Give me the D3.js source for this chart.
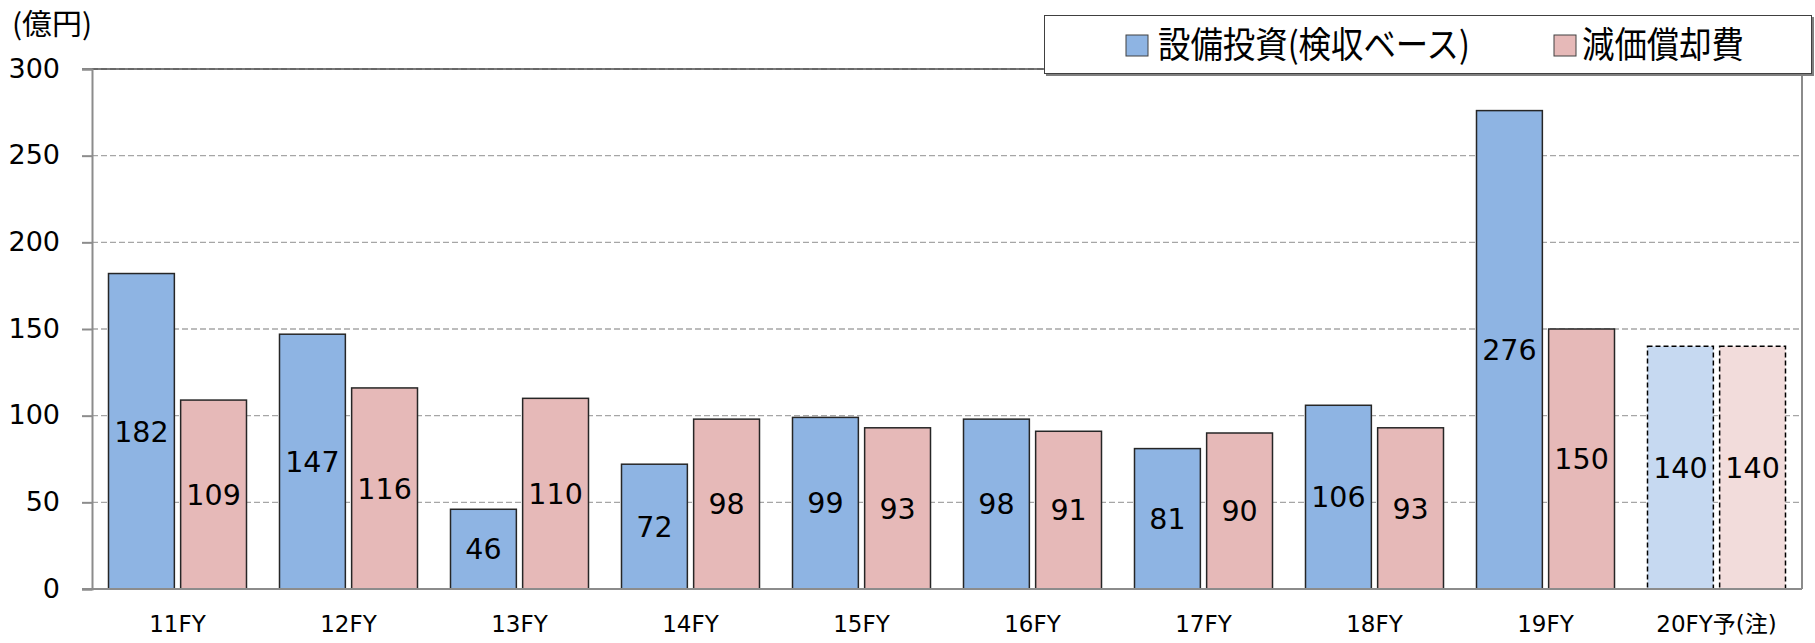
<!DOCTYPE html>
<html>
<head>
<meta charset="utf-8">
<script src="https://cdn.jsdelivr.net/npm/d3@7"></script>
<style>
  body { margin: 0; background: #fff; }
  svg { display: block; }
  text { font-family: "DejaVu Sans", "Noto Sans CJK JP", sans-serif; fill: #000; }
</style>
</head>
<body>
<svg id="chart" width="1815" height="643"></svg>
<script>
// data
var categories = ["11FY", "12FY", "13FY", "14FY", "15FY", "16FY", "17FY", "18FY", "19FY", "20FY予(注)"];
var capex = [182, 147, 46, 72, 99, 98, 81, 106, 276, 140];
var depreciation = [109, 116, 110, 98, 93, 91, 90, 93, 150, 140];
var forecast = [false, false, false, false, false, false, false, false, false, true];
var seriesNames = ["設備投資(検収ベース)", "減価償却費"];
var yTicks = [0, 50, 100, 150, 200, 250, 300];
var unitLabel = "(億円)";

var colors = ["#8eb4e3", "#e6b9b8"];
var lightColors = ["#c6d9f1", "#f2dcdb"];

var svg = d3.select("#chart");
// note: "top" is taken by window.top, so plot bounds get their own names
var plotL = 92, plotR = 1802, plotT = 69, plotB = 589;

var x0 = d3.scaleBand()
  .domain(categories)
  .range([plotL, plotR])
  .paddingInner(0.193)
  .paddingOuter(0.0965);

var x1 = d3.scaleBand()
  .domain([0, 1])
  .range([0, x0.bandwidth()])
  .paddingInner(0.087);

var y = d3.scaleLinear().domain([0, 300]).range([plotB, plotT]);

// gridlines
svg.append("g")
  .selectAll("line")
  .data(yTicks.filter(function(d) { return d > 0; }))
  .enter().append("line")
  .attr("x1", plotL).attr("x2", plotR)
  .attr("y1", function(d) { return y(d); })
  .attr("y2", function(d) { return y(d); })
  .attr("stroke", "#a6a6a6")
  .attr("stroke-width", 1.3)
  .attr("stroke-dasharray", "6,3");

// plot frame top / right
svg.append("line")
  .attr("x1", plotL - 10).attr("x2", plotR)
  .attr("y1", y(300)).attr("y2", y(300))
  .attr("stroke", "#4d4d4d").attr("stroke-width", 1.3);
svg.append("line")
  .attr("x1", plotR).attr("x2", plotR)
  .attr("y1", y(300)).attr("y2", y(0))
  .attr("stroke", "#4d4d4d").attr("stroke-width", 1.3);

// bars
var groups = svg.append("g")
  .selectAll("g")
  .data(categories)
  .enter().append("g")
  .attr("transform", function(d) { return "translate(" + x0(d) + ",0)"; });

groups.selectAll("rect")
  .data(function(d, i) {
    return [
      { s: 0, v: capex[i], f: forecast[i] },
      { s: 1, v: depreciation[i], f: forecast[i] }
    ];
  })
  .enter().append("rect")
  .attr("x", function(d) { return x1(d.s); })
  .attr("width", x1.bandwidth())
  .attr("y", function(d) { return y(d.v); })
  .attr("height", function(d) { return y(0) - y(d.v); })
  .attr("fill", function(d) { return d.f ? lightColors[d.s] : colors[d.s]; })
  .attr("stroke", function(d) { return d.f ? "#000" : "#262626"; })
  .attr("stroke-width", 1.5)
  .attr("stroke-dasharray", function(d) { return d.f ? "5,3" : null; });

groups.selectAll("text")
  .data(function(d, i) {
    return [{ s: 0, v: capex[i] }, { s: 1, v: depreciation[i] }];
  })
  .enter().append("text")
  .attr("x", function(d) { return x1(d.s) + x1.bandwidth() / 2; })
  .attr("y", function(d) { return (y(d.v) + y(0)) / 2; })
  .attr("dy", "0.36em")
  .attr("text-anchor", "middle")
  .style("font-size", "28.5px")
  .text(function(d) { return d.v; });

// y axis
var yAxis = d3.axisLeft(y).tickValues(yTicks).tickSize(10).tickPadding(22);
var yg = svg.append("g").attr("transform", "translate(" + plotL + ",0)").call(yAxis);
yg.select(".domain").attr("stroke", "#8c8c8c").attr("stroke-width", 2);
yg.selectAll(".tick line").attr("stroke", "#8c8c8c").attr("stroke-width", 2);
yg.selectAll(".tick text").style("font-size", "27px").attr("dy", "0.3em")
  .attr("fill", "#000").style("font-family", "'DejaVu Sans', sans-serif");

// x axis baseline + labels
svg.append("line")
  .attr("x1", plotL - 10).attr("x2", plotR)
  .attr("y1", y(0)).attr("y2", y(0))
  .attr("stroke", "#8c8c8c").attr("stroke-width", 2);

svg.append("g")
  .selectAll("text")
  .data(categories)
  .enter().append("text")
  .attr("x", function(d) { return x0(d) + x0.bandwidth() / 2; })
  .attr("y", 632)
  .attr("text-anchor", "middle")
  .style("font-size", "23px")
  .text(function(d) { return d; });

// unit
svg.append("text")
  .attr("x", 12).attr("y", 35)
  .attr("textLength", 80)
  .attr("lengthAdjust", "spacingAndGlyphs")
  .style("font-size", "29px")
  .style("font-family", "'Noto Sans CJK JP', sans-serif")
  .text(unitLabel);

// legend
var legend = svg.append("g");
legend.append("rect")
  .attr("x", 1046).attr("y", 17).attr("width", 768).attr("height", 59)
  .attr("fill", "#7f7f7f");
legend.append("rect")
  .attr("x", 1044.5).attr("y", 15.5).attr("width", 767).attr("height", 58)
  .attr("fill", "#fff").attr("stroke", "#404040").attr("stroke-width", 1);

var legendItems = [
  { sx: 1126, tx: 1158, w: 312 },
  { sx: 1554, tx: 1582, w: 162 }
];
legend.selectAll(".sw")
  .data(legendItems)
  .enter().append("rect")
  .attr("class", "sw")
  .attr("x", function(d) { return d.sx; })
  .attr("y", 35).attr("width", 22).attr("height", 21)
  .attr("fill", function(d, i) { return colors[i]; })
  .attr("stroke", "#404040").attr("stroke-width", 1);
legend.selectAll(".lt")
  .data(legendItems)
  .enter().append("text")
  .attr("class", "lt")
  .attr("x", function(d) { return d.tx; })
  .attr("y", 45.5)
  .attr("dy", "0.36em")
  .attr("textLength", function(d) { return d.w; })
  .attr("lengthAdjust", "spacingAndGlyphs")
  .style("font-size", "36px")
  .style("font-family", "'Noto Sans CJK JP', sans-serif")
  .text(function(d, i) { return seriesNames[i]; });
</script>
</body>
</html>
